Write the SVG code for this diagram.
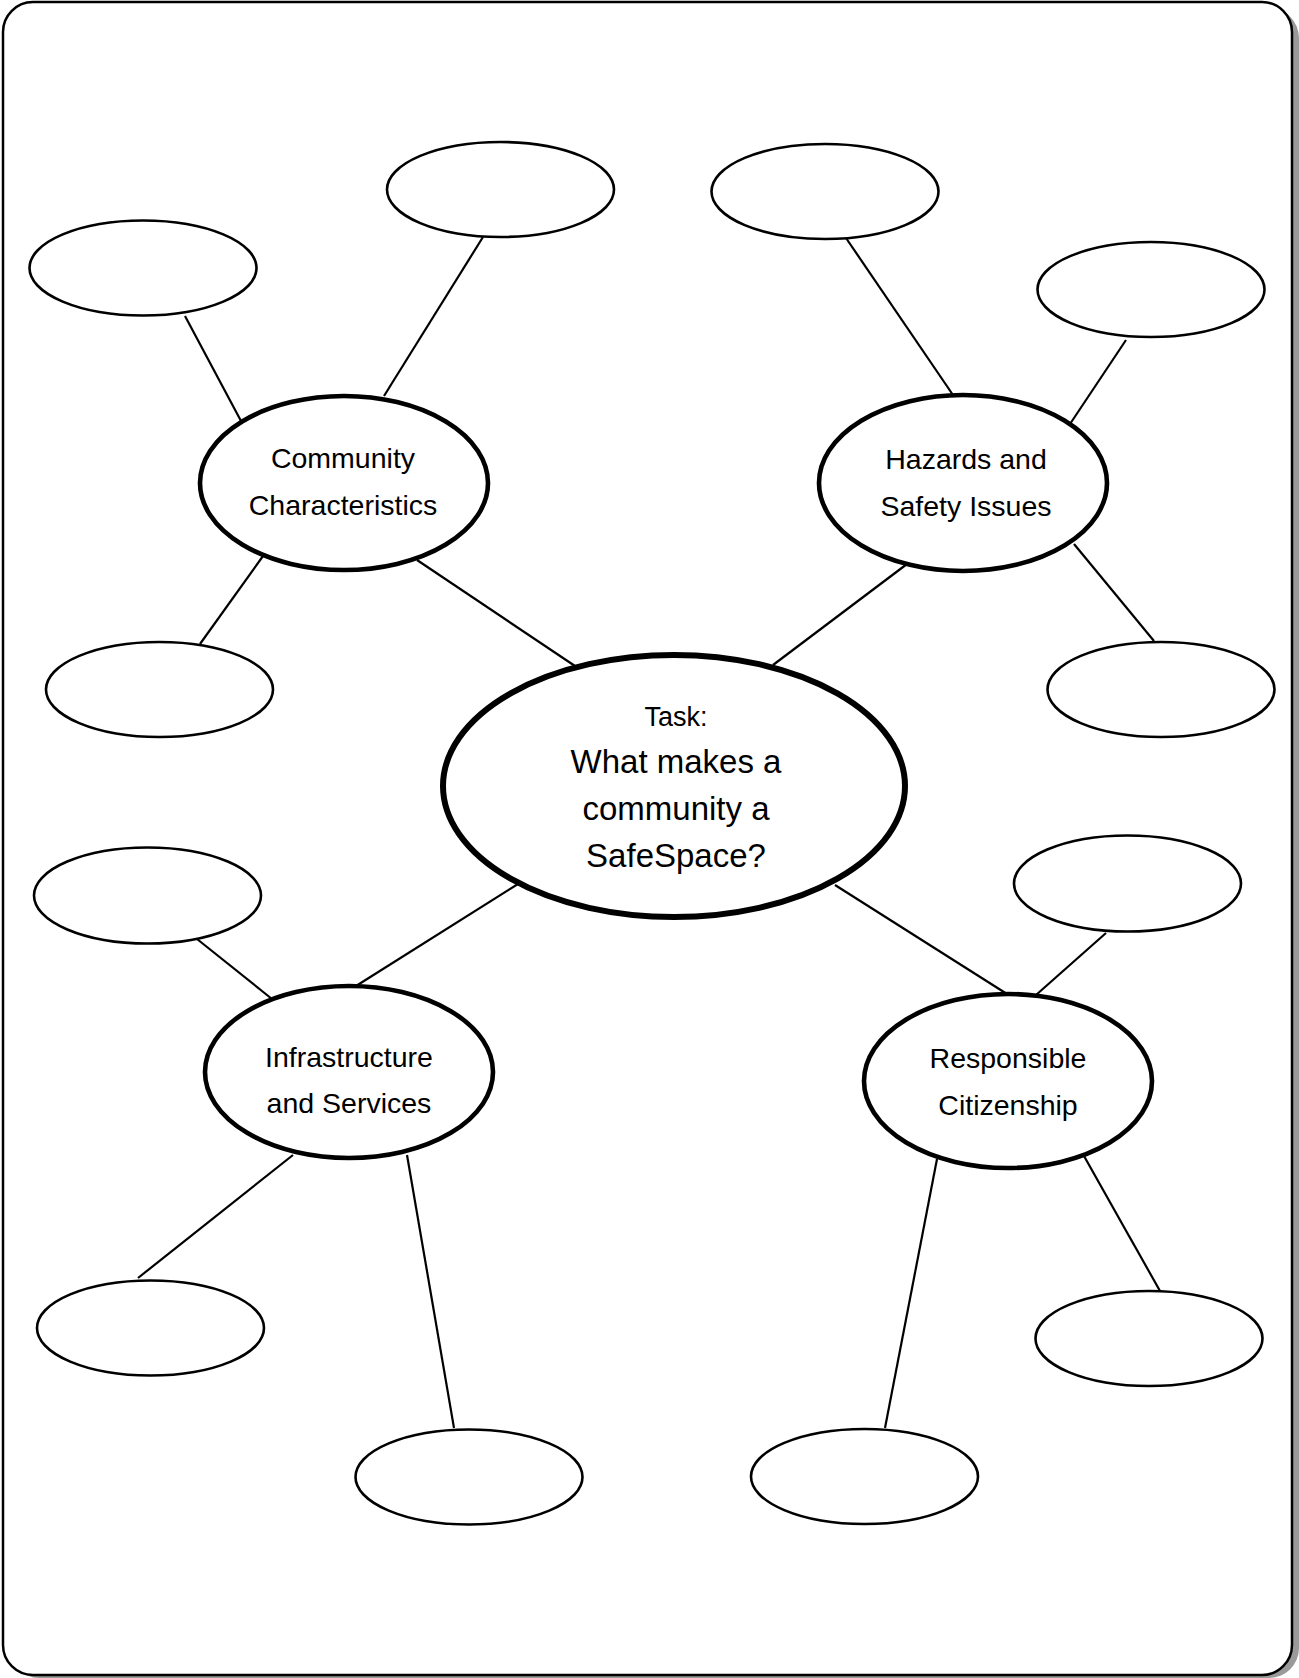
<svg xmlns="http://www.w3.org/2000/svg" width="1299" height="1678" viewBox="0 0 1299 1678">
<style>
.frame{fill:#fff;stroke:#000;stroke-width:2.5}
.shadow{fill:#9a9a9a}
.leaf{fill:#fff;stroke:#000;stroke-width:2.6}
.topic{fill:#fff;stroke:#000;stroke-width:4.6}
.main{fill:#fff;stroke:#000;stroke-width:6}
.conn line{stroke:#000;stroke-width:2.2}
text{font-family:"Liberation Sans",Arial,sans-serif;fill:#000;text-anchor:middle}
.t{font-size:28.5px}
.c{font-size:33px}
.task{font-size:27px}
</style>
<rect x="0" y="0" width="1299" height="1678" fill="#fff"/>
<rect class="shadow" x="9" y="8" width="1290" height="1670" rx="30"/>
<rect class="frame" x="3" y="2" width="1289" height="1673" rx="30"/>
<g id="connectors" class="conn">
<line x1="384" y1="396" x2="483" y2="237"/>
<line x1="241" y1="421" x2="185" y2="316"/>
<line x1="263" y1="556" x2="200" y2="644"/>
<line x1="417" y1="560" x2="575" y2="666"/>
<line x1="953" y1="395" x2="846" y2="238"/>
<line x1="1070" y1="424" x2="1126" y2="340"/>
<line x1="1074" y1="544" x2="1154" y2="641"/>
<line x1="907" y1="564" x2="773" y2="665"/>
<line x1="518" y1="884" x2="356" y2="986"/>
<line x1="272" y1="999" x2="197" y2="939"/>
<line x1="293" y1="1155" x2="138" y2="1278"/>
<line x1="407" y1="1155" x2="454" y2="1428"/>
<line x1="835" y1="885" x2="1007" y2="994"/>
<line x1="1036" y1="995" x2="1106" y2="933"/>
<line x1="937" y1="1159" x2="885" y2="1428"/>
<line x1="1084" y1="1156" x2="1160" y2="1291"/>
</g>
<g id="leaf1"><ellipse class="leaf" cx="500.5" cy="189.5" rx="113.5" ry="47.5"/></g>
<g id="leaf2"><ellipse class="leaf" cx="143" cy="268" rx="113.5" ry="47.5"/></g>
<g id="leaf3"><ellipse class="leaf" cx="159.5" cy="689.5" rx="113.5" ry="47.5"/></g>
<g id="leaf4"><ellipse class="leaf" cx="825" cy="191.5" rx="113.5" ry="47.5"/></g>
<g id="leaf5"><ellipse class="leaf" cx="1151" cy="289.5" rx="113.5" ry="47.5"/></g>
<g id="leaf6"><ellipse class="leaf" cx="1161" cy="689.5" rx="113.5" ry="47.5"/></g>
<g id="leaf7"><ellipse class="leaf" cx="147.5" cy="895.5" rx="113.5" ry="48"/></g>
<g id="leaf8"><ellipse class="leaf" cx="1127.5" cy="883.5" rx="113.5" ry="48"/></g>
<g id="leaf9"><ellipse class="leaf" cx="150.5" cy="1328" rx="113.5" ry="47.5"/></g>
<g id="leaf10"><ellipse class="leaf" cx="469" cy="1477" rx="113.5" ry="47.5"/></g>
<g id="leaf11"><ellipse class="leaf" cx="864.5" cy="1476.5" rx="113.5" ry="47.5"/></g>
<g id="leaf12"><ellipse class="leaf" cx="1149" cy="1338.5" rx="113.5" ry="47.5"/></g>
<g id="community"><ellipse class="topic" cx="344" cy="483" rx="144" ry="87"/>
<text class="t" x="343" y="468">Community</text><text class="t" x="343" y="515">Characteristics</text></g>
<g id="hazards"><ellipse class="topic" cx="963" cy="483" rx="144" ry="88"/>
<text class="t" x="966" y="469">Hazards and</text><text class="t" x="966" y="516">Safety Issues</text></g>
<g id="infrastructure"><ellipse class="topic" cx="349" cy="1072" rx="144" ry="86"/>
<text class="t" x="349" y="1067">Infrastructure</text><text class="t" x="349" y="1113">and Services</text></g>
<g id="citizenship"><ellipse class="topic" cx="1008" cy="1081" rx="144" ry="87"/>
<text class="t" x="1008" y="1068">Responsible</text><text class="t" x="1008" y="1115">Citizenship</text></g>
<g id="task"><ellipse class="main" cx="674" cy="786" rx="231" ry="131"/>
<text class="task" x="676" y="726">Task:</text>
<text class="c" x="676" y="773">What makes a</text>
<text class="c" x="676" y="820">community a</text>
<text class="c" x="676" y="867">SafeSpace?</text></g>
</svg>
